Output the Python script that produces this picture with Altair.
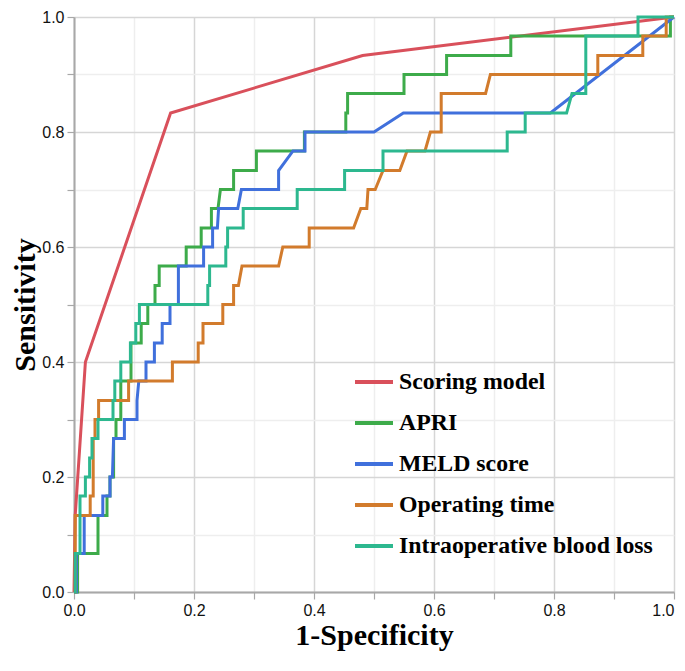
import altair as alt
import pandas as pd

series_names = ["Scoring model", "APRI", "MELD score", "Operating time", "Intraoperative blood loss"]
series_colors = ["#d9505b", "#3dab4a", "#4070dc", "#d27b2c", "#2db88f"]

scoring_fpr = [0.0, 0.002, 0.019, 0.161, 0.481, 1.0]
scoring_tpr = [0.0, 0.133, 0.4, 0.833, 0.933, 1.0]

apri_fpr = [0.0, 0.006, 0.006, 0.04, 0.04, 0.055, 0.055, 0.06, 0.06, 0.066, 0.066, 0.07, 0.07, 0.078,
            0.078, 0.095, 0.095, 0.112, 0.112, 0.123, 0.123, 0.135, 0.135, 0.142, 0.142, 0.187, 0.187,
            0.212, 0.212, 0.229, 0.229, 0.24, 0.244, 0.266, 0.266, 0.304, 0.304, 0.384, 0.384, 0.453,
            0.453, 0.456, 0.456, 0.55, 0.55, 0.621, 0.621, 0.728, 0.728, 0.994, 0.994, 1.0]
apri_tpr = [0.0, 0.0, 0.067, 0.067, 0.133, 0.133, 0.167, 0.167, 0.2, 0.2, 0.267, 0.267, 0.3, 0.3,
            0.367, 0.367, 0.433, 0.433, 0.467, 0.467, 0.5, 0.5, 0.533, 0.533, 0.567, 0.567, 0.6,
            0.6, 0.633, 0.633, 0.667, 0.667, 0.7, 0.7, 0.733, 0.733, 0.767, 0.767, 0.8, 0.8,
            0.833, 0.833, 0.867, 0.867, 0.9, 0.9, 0.933, 0.933, 0.967, 0.967, 1.0, 1.0]

meld_fpr = [0.0, 0.004, 0.004, 0.017, 0.017, 0.048, 0.048, 0.06, 0.06, 0.064, 0.066, 0.084, 0.084,
            0.105, 0.105, 0.108, 0.12, 0.12, 0.134, 0.134, 0.147, 0.147, 0.16, 0.16, 0.174, 0.174,
            0.216, 0.216, 0.231, 0.231, 0.239, 0.241, 0.273, 0.279, 0.341, 0.341, 0.365, 0.385,
            0.385, 0.5, 0.549, 0.794, 1.0]
meld_tpr = [0.0, 0.0, 0.067, 0.067, 0.133, 0.133, 0.167, 0.167, 0.2, 0.2, 0.267, 0.267, 0.3,
            0.3, 0.333, 0.367, 0.367, 0.4, 0.4, 0.433, 0.433, 0.467, 0.467, 0.5, 0.5, 0.567,
            0.567, 0.6, 0.6, 0.633, 0.633, 0.667, 0.667, 0.7, 0.7, 0.733, 0.767, 0.767,
            0.8, 0.8, 0.833, 0.833, 1.0]

optime_fpr = [0.0, 0.002, 0.002, 0.027, 0.027, 0.032, 0.032, 0.035, 0.035, 0.041, 0.041, 0.091, 0.091,
              0.164, 0.164, 0.207, 0.207, 0.215, 0.215, 0.248, 0.248, 0.266, 0.266, 0.274, 0.28,
              0.341, 0.348, 0.392, 0.392, 0.466, 0.478, 0.488, 0.49, 0.502, 0.515, 0.543, 0.555,
              0.585, 0.594, 0.612, 0.612, 0.686, 0.694, 0.873, 0.873, 0.948, 0.948, 0.987, 0.987, 1.0]
optime_tpr = [0.0, 0.0, 0.133, 0.133, 0.167, 0.167, 0.267, 0.267, 0.3, 0.3, 0.333, 0.333, 0.367,
              0.367, 0.4, 0.4, 0.433, 0.433, 0.467, 0.467, 0.5, 0.5, 0.533, 0.533, 0.567,
              0.567, 0.6, 0.6, 0.633, 0.633, 0.667, 0.667, 0.7, 0.7, 0.733, 0.733, 0.767,
              0.767, 0.8, 0.8, 0.867, 0.867, 0.9, 0.9, 0.933, 0.933, 0.967, 0.967, 1.0, 1.0]

blood_fpr = [0.0, 0.002, 0.002, 0.01, 0.01, 0.019, 0.019, 0.026, 0.026, 0.03, 0.03, 0.04, 0.04, 0.065,
             0.065, 0.068, 0.068, 0.078, 0.078, 0.094, 0.094, 0.103, 0.103, 0.109, 0.109, 0.223,
             0.223, 0.226, 0.226, 0.253, 0.253, 0.256, 0.256, 0.282, 0.282, 0.372, 0.372, 0.451,
             0.451, 0.515, 0.515, 0.722, 0.722, 0.752, 0.752, 0.821, 0.83, 0.853, 0.853, 0.94, 0.94, 1.0]
blood_tpr = [0.0, 0.0, 0.067, 0.067, 0.167, 0.167, 0.2, 0.2, 0.233, 0.233, 0.267, 0.267, 0.3, 0.3,
             0.333, 0.333, 0.367, 0.367, 0.4, 0.4, 0.433, 0.433, 0.467, 0.467, 0.5, 0.5,
             0.533, 0.533, 0.567, 0.567, 0.6, 0.6, 0.633, 0.633, 0.667, 0.667, 0.7, 0.7,
             0.733, 0.733, 0.767, 0.767, 0.8, 0.8, 0.833, 0.833, 0.867, 0.867, 0.967, 0.967, 1.0, 1.0]

tick_values = [0.0, 0.1, 0.2, 0.3, 0.4, 0.5, 0.6, 0.7, 0.8, 0.9, 1.0]

curves = [
    (series_names[0], scoring_fpr, scoring_tpr),
    (series_names[1], apri_fpr, apri_tpr),
    (series_names[2], meld_fpr, meld_tpr),
    (series_names[3], optime_fpr, optime_tpr),
    (series_names[4], blood_fpr, blood_tpr),
]
rows = []
for name, xs, ys in curves:
    for i, (xv, yv) in enumerate(zip(xs, ys)):
        rows.append({"series": name, "idx": i, "fpr": xv, "tpr": yv})
df = pd.DataFrame(rows)

major_test = "round(datum.value * 10) % 2 == 0"
label_expr = f"{major_test} ? format(datum.value, '.1f') : ''"
grid_color = {"condition": {"test": major_test, "value": "#d6d6d6"}, "value": "#eeeeee"}

common_axis = dict(
    values=tick_values,
    labelExpr=label_expr,
    labelOverlap=False,
    labelFont="Liberation Sans",
    labelFontSize=16,
    labelColor="#111111",
    labelPadding=3,
    tickSize=7,
    tickColor="#a8a8a8",
    tickWidth=1.2,
    domainColor="#a8a8a8",
    domainWidth=2,
    gridColor=grid_color,
    gridWidth=1.5,
    titleFont="Liberation Serif",
    titleFontWeight="bold",
    titleFontSize=30,
    titleColor="#000000",
)

x_align = {"condition": {"test": "datum.value >= 1", "value": "right"}, "value": "center"}

x_enc = alt.X("fpr:Q", scale=alt.Scale(domain=[0, 1], nice=False, zero=False),
              axis=alt.Axis(titlePadding=2, labelAlign=x_align, **common_axis), title="1-Specificity")
y_enc = alt.Y("tpr:Q", scale=alt.Scale(domain=[0, 1], nice=False, zero=False),
              axis=alt.Axis(titlePadding=1, **common_axis), title="Sensitivity")
color_enc = alt.Color(
    "series:N",
    scale=alt.Scale(domain=series_names, range=series_colors),
    sort=series_names,
    legend=alt.Legend(
        title=None,
        orient="none",
        legendX=279,
        legendY=344,
        symbolType="stroke",
        symbolSize=1444,
        symbolStrokeWidth=4,
        labelFont="Liberation Serif",
        labelFontWeight="bold",
        labelFontSize=23.8,
        labelColor="#000000",
        labelLimit=400,
        labelOffset=4,
        rowPadding=8,
        padding=0,
    ),
)

layers = []
for name in series_names:
    layers.append(
        alt.Chart(df)
        .transform_filter(alt.datum.series == name)
        .mark_line(strokeWidth=3)
        .encode(x=x_enc, y=y_enc, color=color_enc, order="idx:Q")
    )

chart = (
    alt.layer(*layers)
    .properties(
        width=600,
        height=575,
        autosize=alt.AutoSizeParams(type="none"),
        padding={"left": 66, "top": 9, "right": 3, "bottom": 62},
    )
    .configure_view(stroke="#a8a8a8", strokeWidth=2)
    .configure(background="white")
)

chart.save("out.html", embed_options={"renderer": "svg", "actions": False})
